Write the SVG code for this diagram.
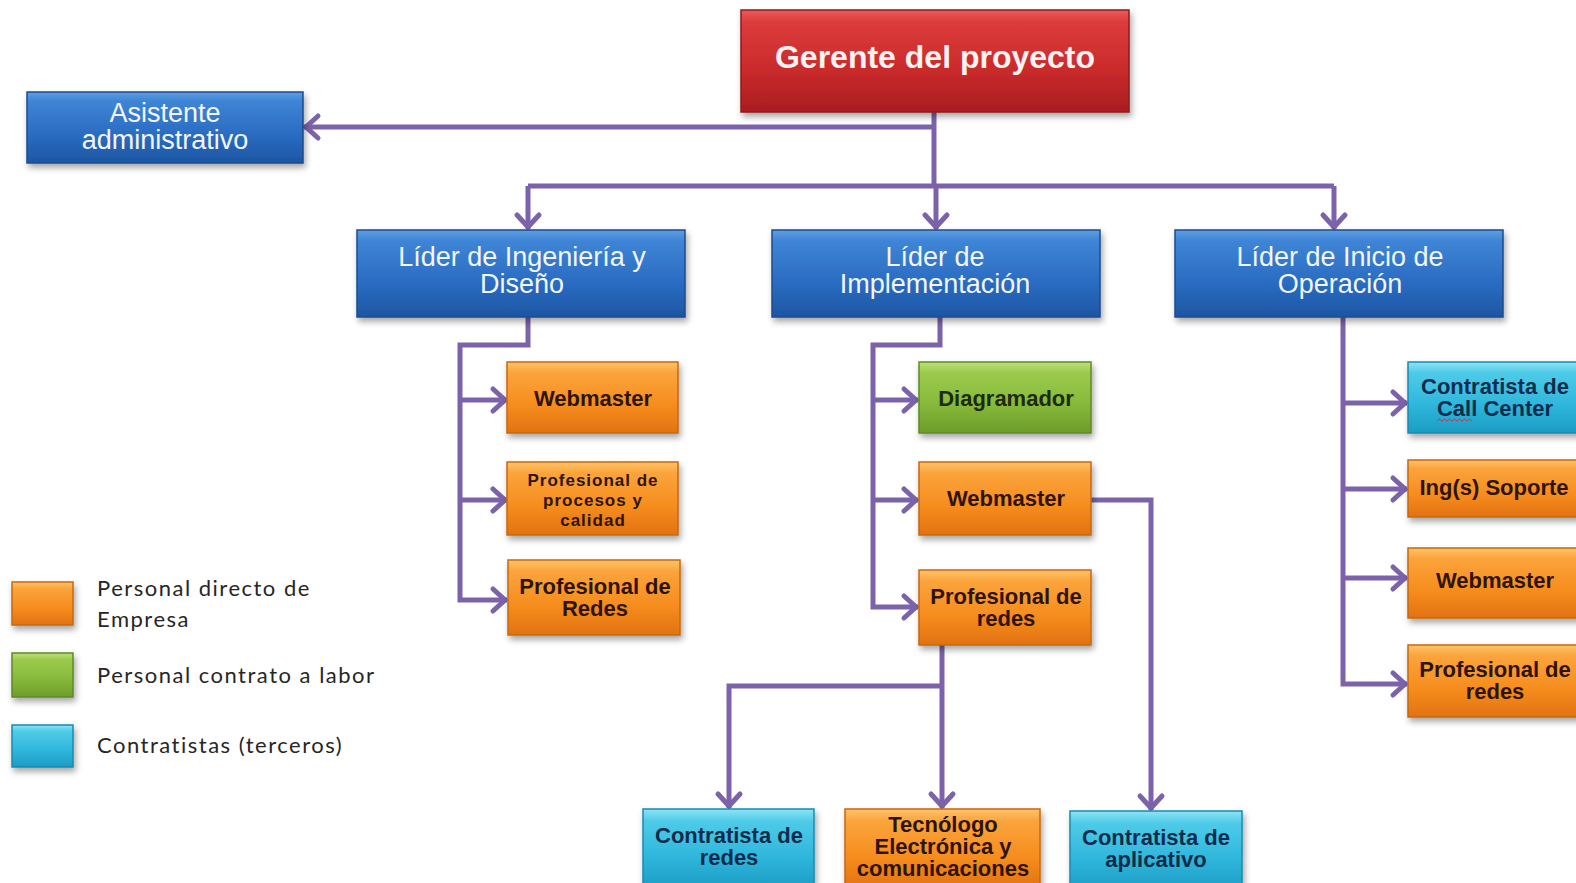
<svg xmlns="http://www.w3.org/2000/svg" width="1576" height="883" viewBox="0 0 1576 883">
<defs>
<linearGradient id="gBlue" x1="0" y1="0" x2="0" y2="1"><stop offset="0" stop-color="#5f9fe2"/><stop offset="0.12" stop-color="#3f85d6"/><stop offset="0.6" stop-color="#2a6cc2"/><stop offset="1" stop-color="#1d56a3"/></linearGradient>
<linearGradient id="gRed" x1="0" y1="0" x2="0" y2="1"><stop offset="0" stop-color="#ec5a58"/><stop offset="0.12" stop-color="#dc3b3b"/><stop offset="0.6" stop-color="#c92a2b"/><stop offset="1" stop-color="#a91d20"/></linearGradient>
<linearGradient id="gOrange" x1="0" y1="0" x2="0" y2="1"><stop offset="0" stop-color="#fdc46a"/><stop offset="0.15" stop-color="#fba43c"/><stop offset="0.6" stop-color="#f68d1e"/><stop offset="1" stop-color="#e27210"/></linearGradient>
<linearGradient id="gGreen" x1="0" y1="0" x2="0" y2="1"><stop offset="0" stop-color="#bde07a"/><stop offset="0.15" stop-color="#9ccb4c"/><stop offset="0.6" stop-color="#86b93a"/><stop offset="1" stop-color="#6d9c2a"/></linearGradient>
<linearGradient id="gCyan" x1="0" y1="0" x2="0" y2="1"><stop offset="0" stop-color="#8ee4f5"/><stop offset="0.15" stop-color="#4ecbe8"/><stop offset="0.6" stop-color="#2fb6dc"/><stop offset="1" stop-color="#1c9cc4"/></linearGradient>
<filter id="sh" x="-10%" y="-10%" width="125%" height="140%"><feDropShadow dx="2" dy="4" stdDeviation="3" flood-color="#000" flood-opacity="0.35"/></filter>
<marker id="arr" markerUnits="userSpaceOnUse" markerWidth="32" markerHeight="32" viewBox="-18 -16 32 32" refX="0" refY="0" orient="auto"><path d="M-14,-11 L-2,0 L-14,11" fill="none" stroke="#7b62aa" stroke-width="5" stroke-linecap="round" stroke-linejoin="miter"/></marker>
</defs>
<style>
.blue{fill:url(#gBlue);stroke:#1a4c8e;stroke-width:1.5;filter:url(#sh)}
.red{fill:url(#gRed);stroke:#8f1a1c;stroke-width:1.5;filter:url(#sh)}
.orange{fill:url(#gOrange);stroke:#c8680e;stroke-width:1.5;filter:url(#sh)}
.green{fill:url(#gGreen);stroke:#5f8a24;stroke-width:1.5;filter:url(#sh)}
.cyan{fill:url(#gCyan);stroke:#178bb0;stroke-width:1.5;filter:url(#sh)}
.tw{font-family:"Liberation Sans",Arial,sans-serif;font-size:27px;fill:#f2f6fc;text-anchor:middle}
.tg{font-family:"Liberation Sans",Arial,sans-serif;font-size:32px;font-weight:bold;fill:#fbf2f2;text-anchor:middle}
.to{font-family:"Liberation Sans",Arial,sans-serif;font-size:22px;font-weight:bold;fill:#2e1404;text-anchor:middle}
.tos{font-family:"Liberation Sans",Arial,sans-serif;font-size:17px;font-weight:bold;fill:#2e1404;text-anchor:middle;letter-spacing:1px}
.tgr{font-family:"Liberation Sans",Arial,sans-serif;font-size:22px;font-weight:bold;fill:#1d2a0c;text-anchor:middle}
.tc{font-family:"Liberation Sans",Arial,sans-serif;font-size:22px;font-weight:bold;fill:#102c4c;text-anchor:middle}
.tl{font-family:Lato,"Open Sans",sans-serif;font-size:22px;fill:#262626;letter-spacing:1.5px}
.ln{fill:none;stroke:#7b62aa;stroke-width:5;stroke-linejoin:miter}
</style>
<rect width="1576" height="883" fill="#ffffff"/>

<g id="connectors">
<path class="ln" d="M934,112 V186"/>
<path class="ln" d="M934,127 H304" marker-end="url(#arr)"/>
<path class="ln" d="M528,186 H1334"/>
<path class="ln" d="M528,186 V229" marker-end="url(#arr)"/>
<path class="ln" d="M936,186 V229" marker-end="url(#arr)"/>
<path class="ln" d="M1334,186 V229" marker-end="url(#arr)"/>
<path class="ln" d="M528,317 V345 H460 V600 H507" marker-end="url(#arr)"/>
<path class="ln" d="M460,400 H507" marker-end="url(#arr)"/>
<path class="ln" d="M460,500 H507" marker-end="url(#arr)"/>
<path class="ln" d="M940,317 V345 H873 V607 H918" marker-end="url(#arr)"/>
<path class="ln" d="M873,400 H918" marker-end="url(#arr)"/>
<path class="ln" d="M873,500 H918" marker-end="url(#arr)"/>
<path class="ln" d="M1091,500 H1151 V810" marker-end="url(#arr)"/>
<path class="ln" d="M942,645 V808" marker-end="url(#arr)"/>
<path class="ln" d="M942,686 H729 V808" marker-end="url(#arr)"/>
<path class="ln" d="M1343,317 V684 H1407" marker-end="url(#arr)"/>
<path class="ln" d="M1343,403 H1407" marker-end="url(#arr)"/>
<path class="ln" d="M1343,489 H1407" marker-end="url(#arr)"/>
<path class="ln" d="M1343,578 H1407" marker-end="url(#arr)"/>
</g>

<g id="gerente"><rect class="red" x="741" y="10" width="388" height="102"/><text class="tg" x="935" y="68">Gerente del proyecto</text></g>
<g id="asistente"><rect class="blue" x="27" y="92" width="276" height="71"/><text class="tw" x="165" y="122">Asistente<tspan x="165" dy="27">administrativo</tspan></text></g>
<g id="lider-ing"><rect class="blue" x="357" y="230" width="328" height="87"/><text class="tw" x="522" y="266">Líder de Ingeniería y<tspan x="522" dy="27">Diseño</tspan></text></g>
<g id="lider-impl"><rect class="blue" x="772" y="230" width="328" height="87"/><text class="tw" x="935" y="266">Líder de<tspan x="935" dy="27">Implementación</tspan></text></g>
<g id="lider-op"><rect class="blue" x="1175" y="230" width="328" height="87"/><text class="tw" x="1340" y="266">Líder de Inicio de<tspan x="1340" dy="27">Operación</tspan></text></g>

<g id="ing-webmaster"><rect class="orange" x="507" y="362" width="171" height="71"/><text class="to" x="593" y="406">Webmaster</text></g>
<g id="ing-procesos"><rect class="orange" x="507" y="462" width="171" height="73"/><text class="tos" x="593" y="486">Profesional de<tspan x="593" dy="20">procesos y</tspan><tspan x="593" dy="20">calidad</tspan></text></g>
<g id="ing-redes"><rect class="orange" x="508" y="560" width="172" height="75"/><text class="to" x="595" y="594">Profesional de<tspan x="595" dy="22">Redes</tspan></text></g>

<g id="impl-diagramador"><rect class="green" x="919" y="362" width="172" height="71"/><text class="tgr" x="1006" y="406">Diagramador</text></g>
<g id="impl-webmaster"><rect class="orange" x="919" y="462" width="172" height="73"/><text class="to" x="1006" y="506">Webmaster</text></g>
<g id="impl-redes"><rect class="orange" x="919" y="570" width="172" height="75"/><text class="to" x="1006" y="604">Profesional de<tspan x="1006" dy="22">redes</tspan></text></g>

<g id="contratista-redes"><rect class="cyan" x="643" y="809" width="171" height="80"/><text class="tc" x="729" y="843">Contratista de<tspan x="729" dy="22">redes</tspan></text></g>
<g id="tecnologo"><rect class="orange" x="845" y="809" width="195" height="80"/><text class="to" x="943" y="832">Tecnólogo<tspan x="943" dy="22">Electrónica y</tspan><tspan x="943" dy="22">comunicaciones</tspan></text></g>
<g id="contratista-aplicativo"><rect class="cyan" x="1070" y="811" width="172" height="80"/><text class="tc" x="1156" y="845">Contratista de<tspan x="1156" dy="22">aplicativo</tspan></text></g>

<g id="op-callcenter"><rect class="cyan" x="1408" y="362" width="174" height="71"/><text class="tc" x="1495" y="394">Contratista de<tspan x="1495" dy="22">Call Center</tspan></text><path d="M1437,421 l2.5,-2 l2.5,2 l2.5,-2 l2.5,2 l2.5,-2 l2.5,2 l2.5,-2 l2.5,2 l2.5,-2 l2.5,2 l2.5,-2 l2.5,2 l2.5,-2 l2.5,2" fill="none" stroke="#d0304a" stroke-width="1"/></g>
<g id="op-soporte"><rect class="orange" x="1408" y="460" width="174" height="57"/><text class="to" x="1494" y="495">Ing(s) Soporte</text></g>
<g id="op-webmaster"><rect class="orange" x="1408" y="548" width="174" height="70"/><text class="to" x="1495" y="588">Webmaster</text></g>
<g id="op-redes"><rect class="orange" x="1408" y="645" width="174" height="72"/><text class="to" x="1495" y="677">Profesional de<tspan x="1495" dy="22">redes</tspan></text></g>

<g id="legend">
<rect class="orange" x="12" y="582" width="61" height="43"/>
<rect class="green" x="12" y="653" width="61" height="44"/>
<rect class="cyan" x="12" y="725" width="61" height="42"/>
<text class="tl" x="97" y="596">Personal directo de<tspan x="97" dy="31">Empresa</tspan></text>
<text class="tl" x="97" y="683">Personal contrato a labor</text>
<text class="tl" x="97" y="753">Contratistas (terceros)</text>
</g>
</svg>
